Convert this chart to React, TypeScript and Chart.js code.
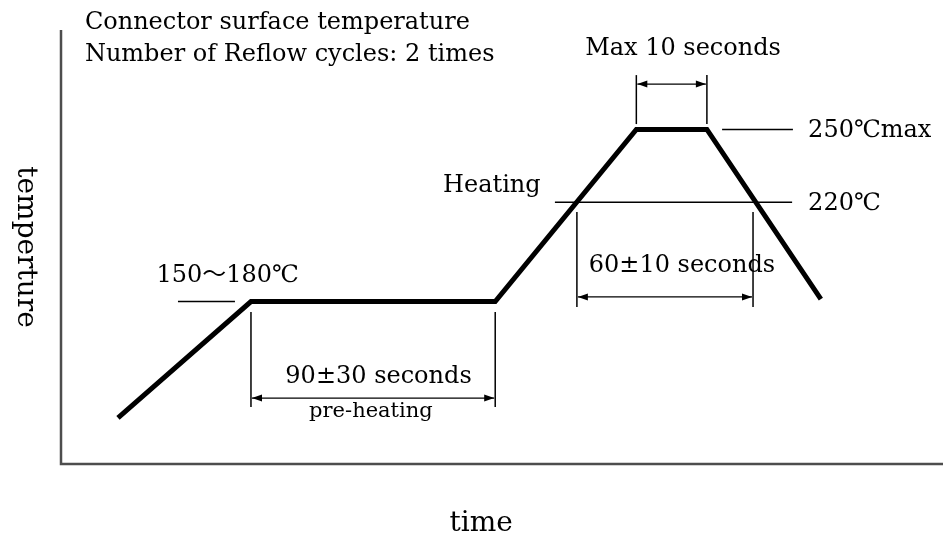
import React, { useEffect, useRef } from "react";
import { Chart, registerables } from "chart.js";

Chart.register(...registerables);

// ---- data (time in arbitrary seconds, temperature in °C) ----
const timeValues = [21, 70, 160, 212, 238, 280];
const temperatureValues = [131, 179, 179, 250, 250, 180];

const xRange = [0, 325];
const yRange = [112, 291];

// ---- annotation text ----
const titleLines = ["Connector surface temperature", "Number of Reflow cycles: 2 times"];
const xAxisTitle = "time";
const yAxisTitle = "temperture";
const peakLabel = "Max 10 seconds";
const maxTempLabel = "250℃max";
const reflowTempLabel = "220℃";
const heatingLabel = "Heating";
const reflowTimeLabel = "60±10 seconds";
const preheatTempLabel = "150〜180℃";
const preheatTimeLabel = "90±30 seconds";
const preheatLabel = "pre-heating";

const FONT = '"DejaVu Serif", "Noto Sans CJK JP", serif';

// layout of annotations, in data units (x: time, y: temperature)
type Seg = [number, number, number, number];
const refLines: Seg[] = [
  [43.1, 179, 64.1, 179],
  [182, 220, 269.4, 220],
  [243.6, 250, 269.7, 250],
];
const extLines: Seg[] = [
  [70, 174.7, 70, 135.5],
  [160, 174.7, 160, 135.5],
  [190.1, 215.9, 190.1, 176.8],
  [255, 215.9, 255, 176.8],
  [212, 272.4, 212, 252.2],
  [238, 272.4, 238, 252.2],
];
const dimArrows: [number, number, number][] = [
  [70, 160, 139.2],
  [190.1, 255, 180.9],
  [212, 238, 268.7],
];

type Lbl = { t: string; x: number; y: number; a: CanvasTextAlign; s: number };
const labelsLayout: Lbl[] = [
  { t: titleLines[0], x: 8.8, y: 291.4, a: "left", s: 24 },
  { t: titleLines[1], x: 8.8, y: 278.2, a: "left", s: 24 },
  { t: peakLabel, x: 229.2, y: 280.7, a: "center", s: 24 },
  { t: maxTempLabel, x: 275.3, y: 246.9, a: "left", s: 24 },
  { t: reflowTempLabel, x: 275.3, y: 216.8, a: "left", s: 24 },
  { t: heatingLabel, x: 140.8, y: 224.2, a: "left", s: 24 },
  { t: reflowTimeLabel, x: 228.8, y: 191.2, a: "center", s: 24 },
  { t: preheatTempLabel, x: 61.4, y: 187.1, a: "center", s: 24 },
  { t: preheatTimeLabel, x: 117.0, y: 145.4, a: "center", s: 24 },
  { t: preheatLabel, x: 114.2, y: 131.4, a: "center", s: 21 },
  { t: xAxisTitle, x: 154.8, y: 84.4, a: "center", s: 28 },
];
const yTitlePos = { x: -15.8, y: 201.5, s: 28 };

const annotationPlugin = {
  id: "reflowAnnotations",
  beforeDatasetsDraw(chart: any) {
    const { ctx, scales } = chart;
    const X = (v: number) => scales.x.getPixelForValue(v);
    const Y = (v: number) => scales.y.getPixelForValue(v);
    ctx.save();
    ctx.strokeStyle = "#4d4d4d";
    ctx.lineWidth = 2.5;
    ctx.lineCap = "butt";
    ctx.beginPath();
    ctx.moveTo(X(xRange[0]), Y(yRange[1]));
    ctx.lineTo(X(xRange[0]), Y(yRange[0]));
    ctx.lineTo(X(xRange[1]), Y(yRange[0]));
    ctx.stroke();
    ctx.restore();
  },
  afterDatasetsDraw(chart: any) {
    const { ctx, scales } = chart;
    const X = (v: number) => scales.x.getPixelForValue(v);
    const Y = (v: number) => scales.y.getPixelForValue(v);
    ctx.save();
    ctx.strokeStyle = "#000";
    ctx.fillStyle = "#000";
    ctx.lineWidth = 1.5;
    for (const [x1, y1, x2, y2] of [...refLines, ...extLines]) {
      ctx.beginPath();
      ctx.moveTo(X(x1), Y(y1));
      ctx.lineTo(X(x2), Y(y2));
      ctx.stroke();
    }
    for (const [x1, x2, yv] of dimArrows) {
      const a = X(x1) + 1;
      const b = X(x2) - 1;
      const y = Y(yv);
      ctx.lineWidth = 1.2;
      ctx.beginPath();
      ctx.moveTo(a, y);
      ctx.lineTo(b, y);
      ctx.stroke();
      ctx.beginPath();
      ctx.moveTo(a, y);
      ctx.lineTo(a + 10, y - 3.5);
      ctx.lineTo(a + 10, y + 3.5);
      ctx.closePath();
      ctx.fill();
      ctx.beginPath();
      ctx.moveTo(b, y);
      ctx.lineTo(b - 10, y - 3.5);
      ctx.lineTo(b - 10, y + 3.5);
      ctx.closePath();
      ctx.fill();
    }
    ctx.textBaseline = "alphabetic";
    for (const l of labelsLayout) {
      ctx.font = `${l.s}px ${FONT}`;
      ctx.textAlign = l.a;
      ctx.fillText(l.t, X(l.x), Y(l.y));
    }
    ctx.translate(X(yTitlePos.x), Y(yTitlePos.y));
    ctx.rotate(Math.PI / 2);
    ctx.font = `${yTitlePos.s}px ${FONT}`;
    ctx.textAlign = "center";
    ctx.fillText(yAxisTitle, 0, 0);
    ctx.restore();
  },
};

export default function App() {
  const ref = useRef<HTMLCanvasElement | null>(null);
  useEffect(() => {
    if (!ref.current) return;
    const chart = new Chart(ref.current, {
      type: "line",
      data: {
        datasets: [
          {
            data: timeValues.map((t, i) => ({ x: t, y: temperatureValues[i] })),
            borderColor: "#000",
            borderWidth: 5,
            pointRadius: 0,
            tension: 0,
            fill: false,
            borderJoinStyle: "miter",
          },
        ],
      },
      options: {
        animation: false,
        responsive: false,
        devicePixelRatio: 1,
        layout: { padding: { left: 61, top: 30, right: 0, bottom: 71 } },
        plugins: { legend: { display: false }, tooltip: { enabled: false } },
        scales: {
          x: { type: "linear", min: xRange[0], max: xRange[1], display: false },
          y: { type: "linear", min: yRange[0], max: yRange[1], display: false },
        },
      },
      plugins: [annotationPlugin],
    });
    return () => chart.destroy();
  }, []);
  return (
    <div style={{ position: "absolute", left: 0, top: 0, width: 943, height: 535, background: "#fff" }}>
      <canvas ref={ref} width={943} height={535} style={{ width: 943, height: 535, display: "block" }} />
    </div>
  );
}
